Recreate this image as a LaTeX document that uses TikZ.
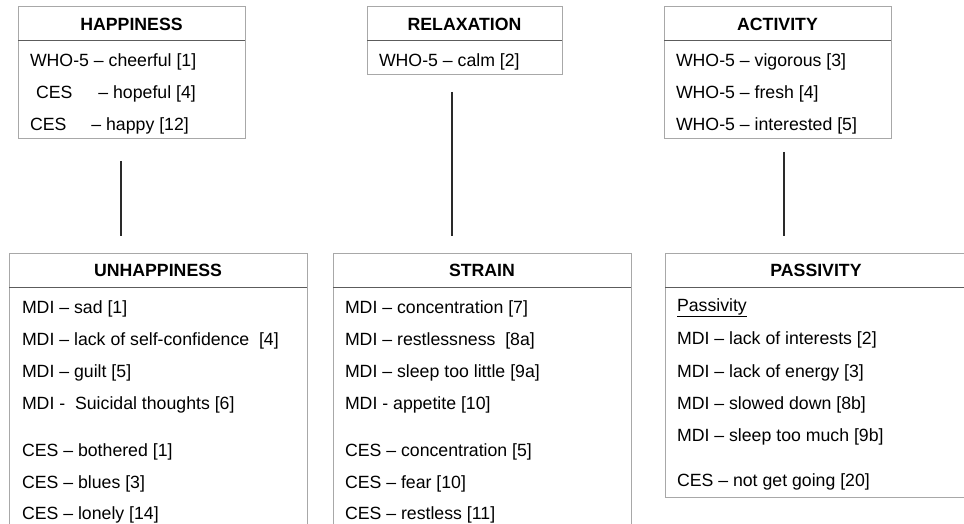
\documentclass[tikz,border=0pt]{standalone}
\usepackage{fontspec}
\setmainfont{Liberation Sans}
\definecolor{boxgray}{HTML}{A8A8A8}
\definecolor{divgray}{HTML}{5C5C5C}
\definecolor{conncol}{HTML}{2A2A2A}
\newcommand{\fsz}{\fontsize{17.7}{21}\selectfont}
\tikzset{
  boxpart/.style={draw=boxgray, line width=1pt, rectangle, anchor=north west, inner sep=0pt, outer sep=0pt},
  hdr/.style={boxpart, minimum height=34pt, font=\fsz\bfseries},
  bodybox/.style={boxpart},
  divider/.style={draw=divgray, line width=1pt},
  item/.style={anchor=base west, inner sep=0pt, outer sep=0pt, font=\fsz},
  conn/.style={draw=conncol, line width=1.2pt}
}
\begin{document}
\begin{tikzpicture}[x=1pt, y=-1pt]
\useasboundingbox (0,0) rectangle (964,524);
\clip (0,0) rectangle (964,524);
\fill[white] (0,0) rectangle (964,524);

% ---------- HAPPINESS ----------
\node[hdr, minimum width=227pt] (happyH) at (18,7) {HAPPINESS};
\node[bodybox, minimum width=227pt, minimum height=98pt] (happyB) at (happyH.south west) {};
\draw[divider] (happyH.south west) -- (happyH.south east);
\node[item] (h1) at (30,66.5) {WHO-5 – cheerful [1]};
\node[item] (h2) at (36,98.5) {CES\hspace{26pt}– hopeful [4]};
\node[item] (h3) at (30,130.5) {CES\hspace{25pt}– happy [12]};

% ---------- RELAXATION ----------
\node[hdr, minimum width=195pt] (relaxH) at (367,7) {RELAXATION};
\node[bodybox, minimum width=195pt, minimum height=34pt] (relaxB) at (relaxH.south west) {};
\draw[divider] (relaxH.south west) -- (relaxH.south east);
\node[item] (r1) at (379,66.5) {WHO-5 – calm [2]};

% ---------- ACTIVITY ----------
\node[hdr, minimum width=227pt] (actH) at (664,7) {ACTIVITY};
\node[bodybox, minimum width=227pt, minimum height=98pt] (actB) at (actH.south west) {};
\draw[divider] (actH.south west) -- (actH.south east);
\node[item] (a1) at (676,66.5) {WHO-5 – vigorous [3]};
\node[item] (a2) at (676,98.5) {WHO-5 – fresh [4]};
\node[item] (a3) at (676,130.5) {WHO-5 – interested [5]};

% ---------- UNHAPPINESS ----------
\node[hdr, minimum width=298pt] (unhH) at (9,253) {UNHAPPINESS};
\node[bodybox, minimum width=298pt, minimum height=300pt] (unhB) at (unhH.south west) {};
\draw[divider] (unhH.south west) -- (unhH.south east);
\node[item] (u1) at (22,313) {MDI – sad [1]};
\node[item] (u2) at (22,345.5) {MDI – lack of self-confidence\ \ [4]};
\node[item] (u3) at (22,377) {MDI – guilt [5]};
\node[item] (u4) at (22,409.5) {MDI -\ \ Suicidal thoughts [6]};
\node[item] (u5) at (22,456.3) {CES – bothered [1]};
\node[item] (u6) at (22,488) {CES – blues [3]};
\node[item] (u7) at (22,519.6) {CES – lonely [14]};

% ---------- STRAIN ----------
\node[hdr, minimum width=298pt] (strH) at (333,253) {STRAIN};
\node[bodybox, minimum width=298pt, minimum height=300pt] (strB) at (strH.south west) {};
\draw[divider] (strH.south west) -- (strH.south east);
\node[item] (s1) at (345,313) {MDI – concentration [7]};
\node[item] (s2) at (345,345.5) {MDI – restlessness\ \ [8a]};
\node[item] (s3) at (345,377) {MDI – sleep too little [9a]};
\node[item] (s4) at (345,409.5) {MDI - appetite [10]};
\node[item] (s5) at (345,456.3) {CES – concentration [5]};
\node[item] (s6) at (345,488) {CES – fear [10]};
\node[item] (s7) at (345,519.6) {CES – restless [11]};

% ---------- PASSIVITY ----------
\node[hdr, minimum width=302pt] (pasH) at (665,253) {PASSIVITY};
\node[bodybox, minimum width=302pt, minimum height=210pt] (pasB) at (pasH.south west) {};
\draw[divider] (pasH.south west) -- (pasH.south east);
\node[item] (p0) at (677,311.5) {\underline{Passivity}};
\node[item] (p1) at (677,344.5) {MDI – lack of interests [2]};
\node[item] (p2) at (677,377) {MDI – lack of energy [3]};
\node[item] (p3) at (677,409) {MDI – slowed down [8b]};
\node[item] (p4) at (677,441.5) {MDI – sleep too much [9b]};
\node[item] (p5) at (677,486.5) {CES – not get going [20]};

% ---------- connectors ----------
\coordinate (c1a) at (121,161);
\coordinate (c1b) at (121,236);
\coordinate (c2a) at (452,92);
\coordinate (c2b) at (452,236);
\coordinate (c3a) at (784,152);
\coordinate (c3b) at (784,236);
\draw[conn] (c1a) -- (c1b);
\draw[conn] (c2a) -- (c2b);
\draw[conn] (c3a) -- (c3b);
\end{tikzpicture}
\end{document}
